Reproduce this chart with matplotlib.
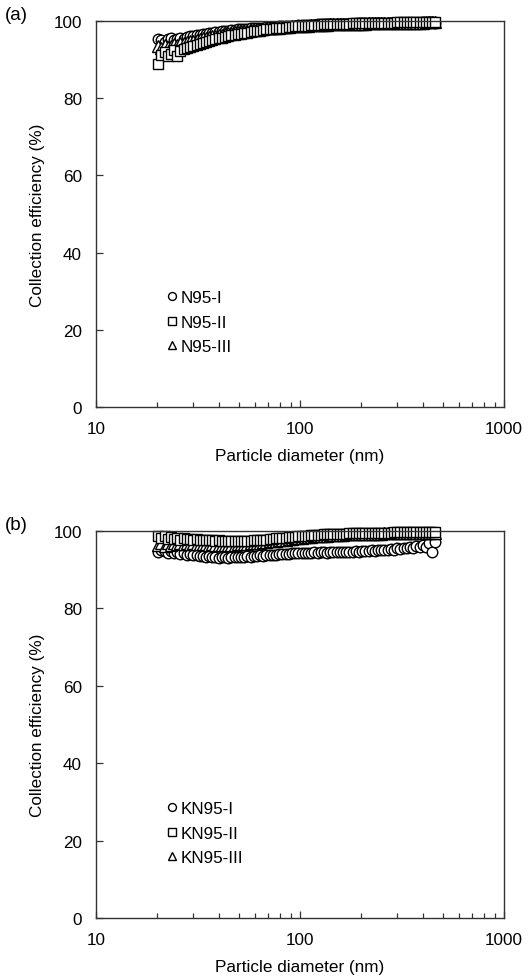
import matplotlib
matplotlib.use("Agg")
import matplotlib.pyplot as plt
from matplotlib.ticker import LogLocator, NullFormatter, FixedLocator

plt.rcParams['font.family'] = ['Liberation Sans', 'DejaVu Sans']
plt.rcParams['font.size'] = 12.3

diameter = [20.2, 20.9, 21.7, 22.5, 23.3, 24.1, 25.0, 25.9, 26.9, 27.9,
            28.9, 30.0, 31.1, 32.2, 33.4, 34.6, 35.9, 37.2, 38.5, 40.0,
            41.4, 42.9, 44.5, 46.1, 47.8, 49.6, 51.4, 53.3, 55.2, 57.3,
            59.4, 61.5, 63.8, 66.1, 68.5, 71.0, 73.7, 76.4, 79.1, 82.0,
            85.1, 88.2, 91.4, 94.7, 98.2, 101.8, 105.5, 109.4, 113.4, 117.6,
            121.9, 126.3, 131.0, 135.8, 140.7, 145.9, 151.2, 156.8, 162.5, 168.5,
            174.7, 181.1, 187.7, 194.6, 201.7, 209.1, 216.7, 224.7, 232.9, 241.4,
            250.3, 259.5, 269.0, 278.8, 289.0, 299.6, 310.6, 322.0, 333.8, 346.0,
            358.7, 371.8, 385.4, 399.5, 414.2, 429.4, 445.1, 461.4]

n95_1 = [95.3, 95.0, 94.6, 95.4, 95.6, 95.1, 95.3, 95.7, 95.4, 95.8,
         96.0, 96.1, 96.3, 96.4, 96.6, 96.7, 96.8, 96.9, 97.1, 97.2,
         97.3, 97.4, 97.5, 97.6, 97.7, 97.8, 97.8, 97.9, 98.0, 98.1,
         98.1, 98.2, 98.3, 98.3, 98.4, 98.4, 98.5, 98.5, 98.6, 98.6,
         98.7, 98.7, 98.8, 98.8, 98.9, 98.9, 98.9, 99.0, 99.0, 99.0,
         99.1, 99.1, 99.1, 99.1, 99.2, 99.2, 99.2, 99.2, 99.3, 99.3,
         99.3, 99.3, 99.3, 99.4, 99.4, 99.4, 99.4, 99.4, 99.4, 99.5,
         99.5, 99.5, 99.5, 99.5, 99.5, 99.5, 99.6, 99.6, 99.6, 99.6,
         99.6, 99.6, 99.6, 99.7, 99.6, 99.7, 99.7, 99.6]

n95_2 = [88.8, 91.2, 92.0, 90.9, 91.4, 92.5, 90.9, 92.2, 92.8, 93.0,
         93.2, 93.5, 93.8, 94.1, 94.4, 94.6, 94.9, 95.1, 95.3, 95.5,
         95.7, 95.9, 96.1, 96.3, 96.4, 96.6, 96.7, 96.9, 97.0, 97.2,
         97.3, 97.4, 97.5, 97.7, 97.8, 97.9, 98.0, 98.1, 98.2, 98.3,
         98.3, 98.4, 98.5, 98.6, 98.6, 98.7, 98.8, 98.8, 98.9, 98.9,
         99.0, 99.0, 99.1, 99.1, 99.1, 99.2, 99.2, 99.2, 99.3, 99.3,
         99.3, 99.4, 99.4, 99.4, 99.4, 99.5, 99.5, 99.5, 99.5, 99.5,
         99.6, 99.6, 99.6, 99.6, 99.6, 99.7, 99.7, 99.7, 99.7, 99.7,
         99.7, 99.7, 99.8, 99.8, 99.8, 99.8, 99.8, 99.8]

n95_3 = [93.4, 93.0, 93.8, 93.3, 93.6, 94.0, 93.7, 94.2, 94.3, 94.5,
         94.7, 94.9, 95.1, 95.3, 95.5, 95.7, 95.9, 96.0, 96.2, 96.4,
         96.5, 96.7, 96.8, 96.9, 97.1, 97.2, 97.3, 97.4, 97.5, 97.6,
         97.7, 97.8, 97.9, 98.0, 98.1, 98.1, 98.2, 98.3, 98.3, 98.4,
         98.5, 98.5, 98.6, 98.6, 98.7, 98.7, 98.8, 98.8, 98.9, 98.9,
         98.9, 99.0, 99.0, 99.0, 99.1, 99.1, 99.1, 99.2, 99.2, 99.2,
         99.2, 99.3, 99.3, 99.3, 99.3, 99.3, 99.4, 99.4, 99.4, 99.4,
         99.4, 99.5, 99.5, 99.5, 99.5, 99.5, 99.5, 99.6, 99.6, 99.6,
         99.6, 99.6, 99.6, 99.6, 99.7, 99.7, 99.7, 99.7]

kn95_1 = [94.6, 95.0, 94.8, 94.3, 94.9, 94.2, 94.5, 94.0, 94.3, 93.8,
          94.1, 93.7, 93.9, 93.5, 93.6, 93.3, 93.5, 93.2, 93.4, 93.1,
          93.3, 93.2, 93.1, 93.3, 93.2, 93.3, 93.4, 93.3, 93.5, 93.4,
          93.6, 93.5, 93.7, 93.6, 93.8, 93.8, 93.9, 93.9, 94.0, 94.0,
          94.1, 94.1, 94.2, 94.2, 94.3, 94.3, 94.4, 94.3, 94.4, 94.5,
          94.4, 94.5, 94.5, 94.4, 94.6, 94.5, 94.6, 94.5, 94.7, 94.6,
          94.7, 94.6, 94.8, 94.7, 94.8, 94.9, 94.8, 95.0, 94.9, 95.1,
          95.0, 95.2, 95.1, 95.3, 95.2, 95.5, 95.4, 95.7, 95.5, 95.9,
          95.6, 96.2, 95.8, 96.5, 95.9, 96.8, 94.6, 97.1]

kn95_2 = [98.6, 98.2, 98.8, 98.0, 98.4, 97.9, 98.3, 97.8, 98.1, 97.9,
          98.0, 97.8, 97.9, 97.7, 97.8, 97.6, 97.7, 97.6, 97.5, 97.6,
          97.5, 97.4, 97.5, 97.4, 97.4, 97.3, 97.4, 97.4, 97.5, 97.5,
          97.6, 97.6, 97.7, 97.8, 97.8, 97.9, 98.0, 98.1, 98.1, 98.2,
          98.3, 98.4, 98.4, 98.5, 98.6, 98.7, 98.7, 98.8, 98.9, 98.9,
          99.0, 99.0, 99.1, 99.1, 99.2, 99.2, 99.2, 99.3, 99.3, 99.3,
          99.4, 99.4, 99.4, 99.4, 99.5, 99.5, 99.5, 99.5, 99.5, 99.6,
          99.6, 99.6, 99.6, 99.6, 99.7, 99.7, 99.7, 99.7, 99.7, 99.7,
          99.7, 99.8, 99.8, 99.8, 99.8, 99.8, 99.8, 99.8]

kn95_3 = [96.4, 96.8, 96.2, 96.9, 96.5, 97.0, 96.6, 96.9, 96.7, 96.8,
          96.7, 96.8, 96.6, 96.7, 96.6, 96.6, 96.5, 96.6, 96.5, 96.5,
          96.5, 96.4, 96.5, 96.5, 96.5, 96.6, 96.6, 96.7, 96.7, 96.8,
          96.9, 96.9, 97.0, 97.1, 97.2, 97.3, 97.4, 97.5, 97.6, 97.7,
          97.8, 97.9, 98.0, 98.1, 98.2, 98.3, 98.4, 98.4, 98.5, 98.6,
          98.7, 98.7, 98.8, 98.8, 98.9, 98.9, 99.0, 99.0, 99.0, 99.1,
          99.1, 99.1, 99.2, 99.2, 99.2, 99.2, 99.3, 99.3, 99.3, 99.3,
          99.3, 99.4, 99.4, 99.4, 99.4, 99.4, 99.5, 99.5, 99.5, 99.5,
          99.5, 99.5, 99.6, 99.6, 99.6, 99.6, 99.6, 99.6]

panels = [
    ('(a)', [('N95-I', 'o', n95_1), ('N95-III', '^', n95_3), ('N95-II', 's', n95_2)],
     ['N95-I', 'N95-II', 'N95-III']),
    ('(b)', [('KN95-I', 'o', kn95_1), ('KN95-III', '^', kn95_3), ('KN95-II', 's', kn95_2)],
     ['KN95-I', 'KN95-II', 'KN95-III']),
]

W, H = 531, 979
fig = plt.figure(figsize=(W / 100, H / 100), dpi=100)
axes_px = [(96, 22, 408, 386), (96, 532, 408, 387)]  # left, top, width, height
label_y = [16, 526]
spine_c = '#333333'

for (tag, series, order), (l, t, w, h), ly in zip(panels, axes_px, label_y):
    ax = fig.add_axes([l / W, 1 - (t + h) / H, w / W, h / H])
    handles = {}
    for name, mk, vals in series:
        ms = 7.6 if mk != '^' else 8.0
        ln, = ax.plot(diameter, vals, linestyle='none', marker=mk, ms=ms,
                      mfc='white', mec='black', mew=1.0, clip_on=False,
                      label=name)
        handles[name] = ln
    ax.set_xscale('log')
    ax.set_xlim(10, 1000)
    ax.set_ylim(0, 100)
    ax.yaxis.set_major_locator(FixedLocator([0, 20, 40, 60, 80, 100]))
    ax.xaxis.set_major_locator(FixedLocator([10, 100, 1000]))
    ax.set_xticklabels(['10', '100', '1000'])
    ax.xaxis.set_minor_locator(LogLocator(base=10, subs=range(2, 10)))
    ax.xaxis.set_minor_formatter(NullFormatter())
    ax.tick_params(axis='both', which='major', direction='in', length=5,
                   width=0.9, color=spine_c, labelsize=12.3, pad=10)
    ax.tick_params(axis='x', which='minor', direction='in', length=3.5,
                   width=0.9, color=spine_c)
    ax.tick_params(axis='y', which='major', pad=10)
    for s in ax.spines.values():
        s.set_color(spine_c)
        s.set_linewidth(1.0)
    ax.set_xlabel('Particle diameter (nm)', fontsize=12.3, labelpad=9)
    ax.set_ylabel('Collection efficiency (%)', fontsize=12.3, labelpad=6)
    leg = ax.legend([handles[k] for k in order], order, loc='upper left',
                    bbox_to_anchor=(0.175, 0.302), frameon=False, numpoints=1,
                    handlelength=0.5, handletextpad=0.25, labelspacing=0.55,
                    markerscale=0.75, fontsize=12.3, borderaxespad=0, borderpad=0)
    fig.text(5 / W, 1 - ly / H, tag, fontsize=13.5, va='center', ha='left')

fig.savefig('out.png', dpi=100)
